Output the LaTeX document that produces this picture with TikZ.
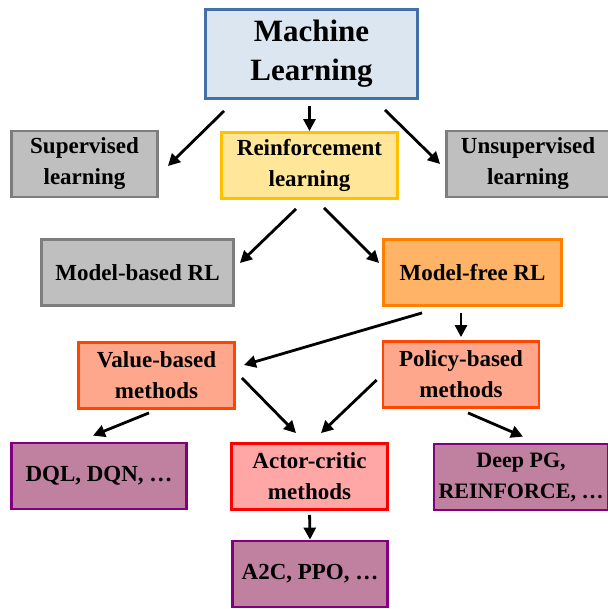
\documentclass[tikz,border=0pt]{standalone}
\usepackage{fontspec}
\setmainfont{Liberation Serif}
\usetikzlibrary{arrows.meta,positioning}

\definecolor{mlfill}{RGB}{220,230,241}
\definecolor{mldraw}{RGB}{65,113,166}
\definecolor{grayfill}{RGB}{191,191,191}
\definecolor{graydraw}{RGB}{125,125,125}
\definecolor{rlfill}{RGB}{255,230,153}
\definecolor{rldraw}{RGB}{255,192,0}
\definecolor{mffill}{RGB}{255,179,102}
\definecolor{mfdraw}{RGB}{255,128,0}
\definecolor{vpfill}{RGB}{255,167,140}
\definecolor{vpdraw}{RGB}{255,69,0}
\definecolor{acfill}{RGB}{255,166,166}
\definecolor{acdraw}{RGB}{255,0,0}
\definecolor{algfill}{RGB}{192,128,160}
\definecolor{algdraw}{RGB}{128,0,128}

\begin{document}
\begin{tikzpicture}[x=1pt,y=-1pt,>={Triangle[length=12pt,width=12pt]},
    box/.style={draw,line width=2.8pt,align=center,inner sep=2pt,
        font=\bfseries\fontsize{23}{31}\selectfont,minimum height=66pt},
    mlbox/.style={box,fill=mlfill,draw=mldraw,minimum width=212pt,minimum height=89pt,
        font=\bfseries\fontsize{31}{39}\selectfont},
    graybox/.style={box,fill=grayfill,draw=graydraw},
    rlbox/.style={box,fill=rlfill,draw=rldraw},
    mfbox/.style={box,fill=mffill,draw=mfdraw},
    vpbox/.style={box,fill=vpfill,draw=vpdraw,minimum width=156pt},
    acbox/.style={box,fill=acfill,draw=acdraw,minimum width=156pt},
    algbox/.style={box,fill=algfill,draw=algdraw},
    arr/.style={->,line width=2.8pt}]

    \useasboundingbox (0,0) rectangle (607,609);

    % top levels
    \node[mlbox] (ml) at (311.5,54) {Machine\\Learning};
    \node[graybox,minimum width=146pt] (sup) at (84.5,164) {Supervised\\learning};
    \node[rlbox,minimum width=176pt] (rl) at (309.5,165.5) {Reinforcement\\learning};
    \node[graybox,minimum width=163pt] (unsup) at (528,164) {Unsupervised\\learning};

    \node[graybox,minimum width=192pt] (mb) at (137.5,272.5) {Model-based RL};
    \node[mfbox,minimum width=178pt] (mf) at (472.5,272.5) {Model-free RL};

    % methods
    \node[vpbox] (value) at (156.5,375.5) {Value-based\\methods};
    \node[vpbox] (policy) at (461,374.5) {Policy-based\\methods};

    \node[algbox,minimum width=175pt] (dql) at (99,476) {DQL, DQN, \dots};
    \node[acbox] (ac) at (309.5,476.5) {Actor-critic\\methods};
    \node[algbox,minimum width=174pt,font=\bfseries\fontsize{22}{31}\selectfont] (pg) at (521,477) {Deep PG,\\REINFORCE, \dots};
    \node[algbox,minimum width=155pt] (a2c) at (310,574) {A2C, PPO, \dots};

    % arrows
    \draw[arr] ([xshift=20pt,yshift=-11pt]ml.south west) -- ([xshift=9pt,yshift=-2pt]sup.east);
    \draw[arr,shorten <=6pt] (ml.south -| rl.north) -- (rl.north);
    \draw[arr] ([xshift=-34pt,yshift=-10pt]ml.south east) -- ([xshift=-5pt]unsup.west);

    \draw[arr] ([xshift=-13.5pt,yshift=-9pt]rl.south) -- ([xshift=5pt,yshift=9.5pt]mb.east);
    \draw[arr] ([xshift=14.5pt,yshift=-8pt]rl.south) -- ([xshift=-3pt,yshift=9.5pt]mf.west);

    \draw[arr] ([xshift=40pt,yshift=-6pt]mf.south west) -- ([xshift=8pt,yshift=10.5pt]value.east);
    \draw[arr,shorten >=3pt] ([yshift=-6pt]mf.south -| policy.north) -- (policy.north);

    \draw[arr] ([xshift=6pt,yshift=-2.5pt]value.east) -- ([xshift=-13.5pt,yshift=9pt]ac.north);
    \draw[arr] ([xshift=-5pt,yshift=-5.5pt]policy.west) -- ([xshift=11.5pt,yshift=9pt]ac.north);
    \draw[arr] ([xshift=-7.5pt,yshift=-3pt]value.south) -- ([xshift=-6pt,yshift=6pt]dql.north);
    \draw[arr] ([xshift=7pt,yshift=-4pt]policy.south) -- ([xshift=2pt,yshift=6pt]pg.north);
    \draw[arr,shorten <=4pt] (ac.south) -- (a2c.north);

\end{tikzpicture}
\end{document}
